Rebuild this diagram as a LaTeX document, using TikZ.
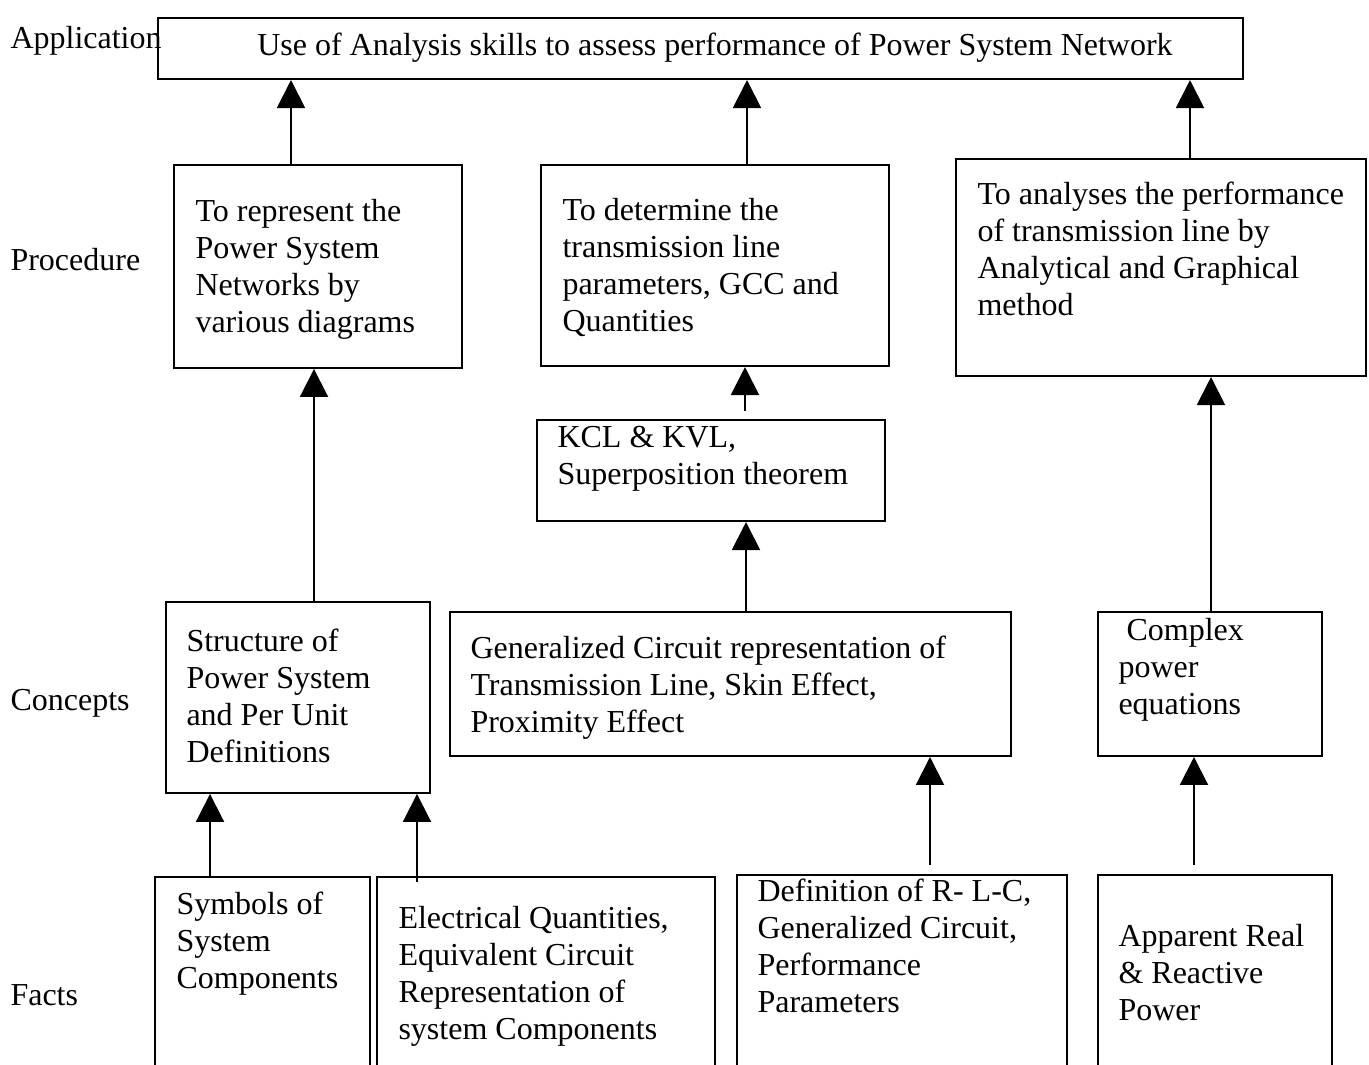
\documentclass[tikz,border=0pt]{standalone}
\usepackage{fontspec}
\setmainfont{Liberation Serif}
\usetikzlibrary{arrows.meta}
\newcommand\mlines[1]{\begin{tabular}[t]{@{}l@{}}#1\end{tabular}}
\begin{document}
\begin{tikzpicture}[x=0.375pt,y=-0.375pt,
  box/.style={draw,line width=0.75pt,rectangle,inner sep=0pt},
  txt/.style={anchor=base west,inner sep=0pt,font=\fontsize{12}{13.8}\selectfont},
  lvl/.style={anchor=base west,inner sep=0pt,font=\fontsize{12}{13.8}\selectfont},
  arr/.style={line width=0.75pt,-{Triangle[width=10.5pt,length=10.5pt]}}]
\useasboundingbox (0,0) rectangle (1369,1065);
\clip (0,0) rectangle (1369,1065);
% level labels
\node[lvl] (lA) at (10,49) {Application};
\node[lvl] (lP) at (10,271) {Procedure};
\node[lvl] (lC) at (10,711) {Concepts};
\node[lvl] (lF) at (10,1006) {Facts};
% boxes
\node[box,minimum width=406.9pt,minimum height=22.9pt] (App) at (700.5,48.5) {};
\node[box,minimum width=108pt,minimum height=76.1pt] (P1) at (318,266.5) {};
\node[box,minimum width=130.5pt,minimum height=75.4pt] (P2) at (715,265.5) {};
\node[box,minimum width=153.75pt,minimum height=81.4pt] (P3) at (1161,267.5) {};
\node[box,minimum width=130.5pt,minimum height=37.9pt] (KCL) at (711,470.5) {};
\node[box,minimum width=99pt,minimum height=71.6pt] (C1) at (298,697.5) {};
\node[box,minimum width=210.4pt,minimum height=54pt] (C2) at (730.5,684) {};
\node[box,minimum width=84pt,minimum height=54pt] (C3) at (1210,684) {};
\node[box,minimum width=80.6pt,minimum height=83.6pt] (F1) at (262.5,988.5) {};
\node[box,minimum width=126.75pt,minimum height=83.6pt] (F2) at (546,988.5) {};
\node[box,minimum width=123.75pt,minimum height=84.4pt] (F3) at (902,987.5) {};
\node[box,minimum width=87.75pt,minimum height=84.4pt] (F4) at (1215,987.5) {};
% texts
\node[anchor=base,inner sep=0pt,font=\fontsize{12}{13.8}\selectfont] (tApp) at (715,56) {Use of Analysis skills to assess performance of Power System Network};
\node[txt] (tP1) at (195,222) {\mlines{To represent the\\Power System\\Networks by\\various diagrams}};
\node[txt] (tP2) at (562,221) {\mlines{To determine the\\transmission line\\parameters, GCC and\\Quantities}};
\node[txt] (tP3) at (977,205) {\mlines{To analyses the performance\\of transmission line by\\Analytical and Graphical\\method}};
\node[txt] (tKCL) at (557,448) {\mlines{KCL \& KVL,\\Superposition theorem}};
\node[txt] (tC1) at (186,652) {\mlines{Structure of\\Power System\\and Per Unit\\Definitions}};
\node[txt] (tC2) at (470,659) {\mlines{Generalized Circuit representation of\\Transmission Line, Skin Effect,\\Proximity Effect}};
\node[txt] (tC3) at (1118,641) {\mlines{\hspace{3pt}Complex\\power\\equations}};
\node[txt] (tF1) at (176,915) {\mlines{Symbols of\\System\\Components}};
\node[txt] (tF2) at (398,929) {\mlines{Electrical Quantities,\\Equivalent Circuit\\Representation of\\system Components}};
\node[txt] (tF3) at (757,902) {\mlines{Definition of R- L-C,\\Generalized Circuit,\\Performance\\Parameters}};
\node[txt] (tF4) at (1118,947) {\mlines{Apparent Real\\\& Reactive\\Power}};
% arrows
\draw[arr] (P1.north -| 291,0) -- (App.south -| 291,0);
\draw[arr] (P2.north -| 747,0) -- (App.south -| 747,0);
\draw[arr] (P3.north -| 1190,0) -- (App.south -| 1190,0);
\draw[arr] (C1.north -| 314,0) -- (P1.south -| 314,0);
\draw[arr,shorten <=3pt] (KCL.north -| 745,0) -- (P2.south -| 745,0);
\draw[arr] (C2.north -| 746,0) -- (KCL.south -| 746,0);
\draw[arr] (C3.north -| 1211,0) -- (P3.south -| 1211,0);
\draw[arr] (F1.north -| 210,0) -- (C1.south -| 210,0);
\draw[arr,shorten <=-2.25pt] (F2.north -| 417,0) -- (C1.south -| 417,0);
\draw[arr,shorten <=3.4pt] (F3.north -| 930,0) -- (C2.south -| 930,0);
\draw[arr,shorten <=3.4pt] (F4.north -| 1194,0) -- (C3.south -| 1194,0);
\end{tikzpicture}
\end{document}
